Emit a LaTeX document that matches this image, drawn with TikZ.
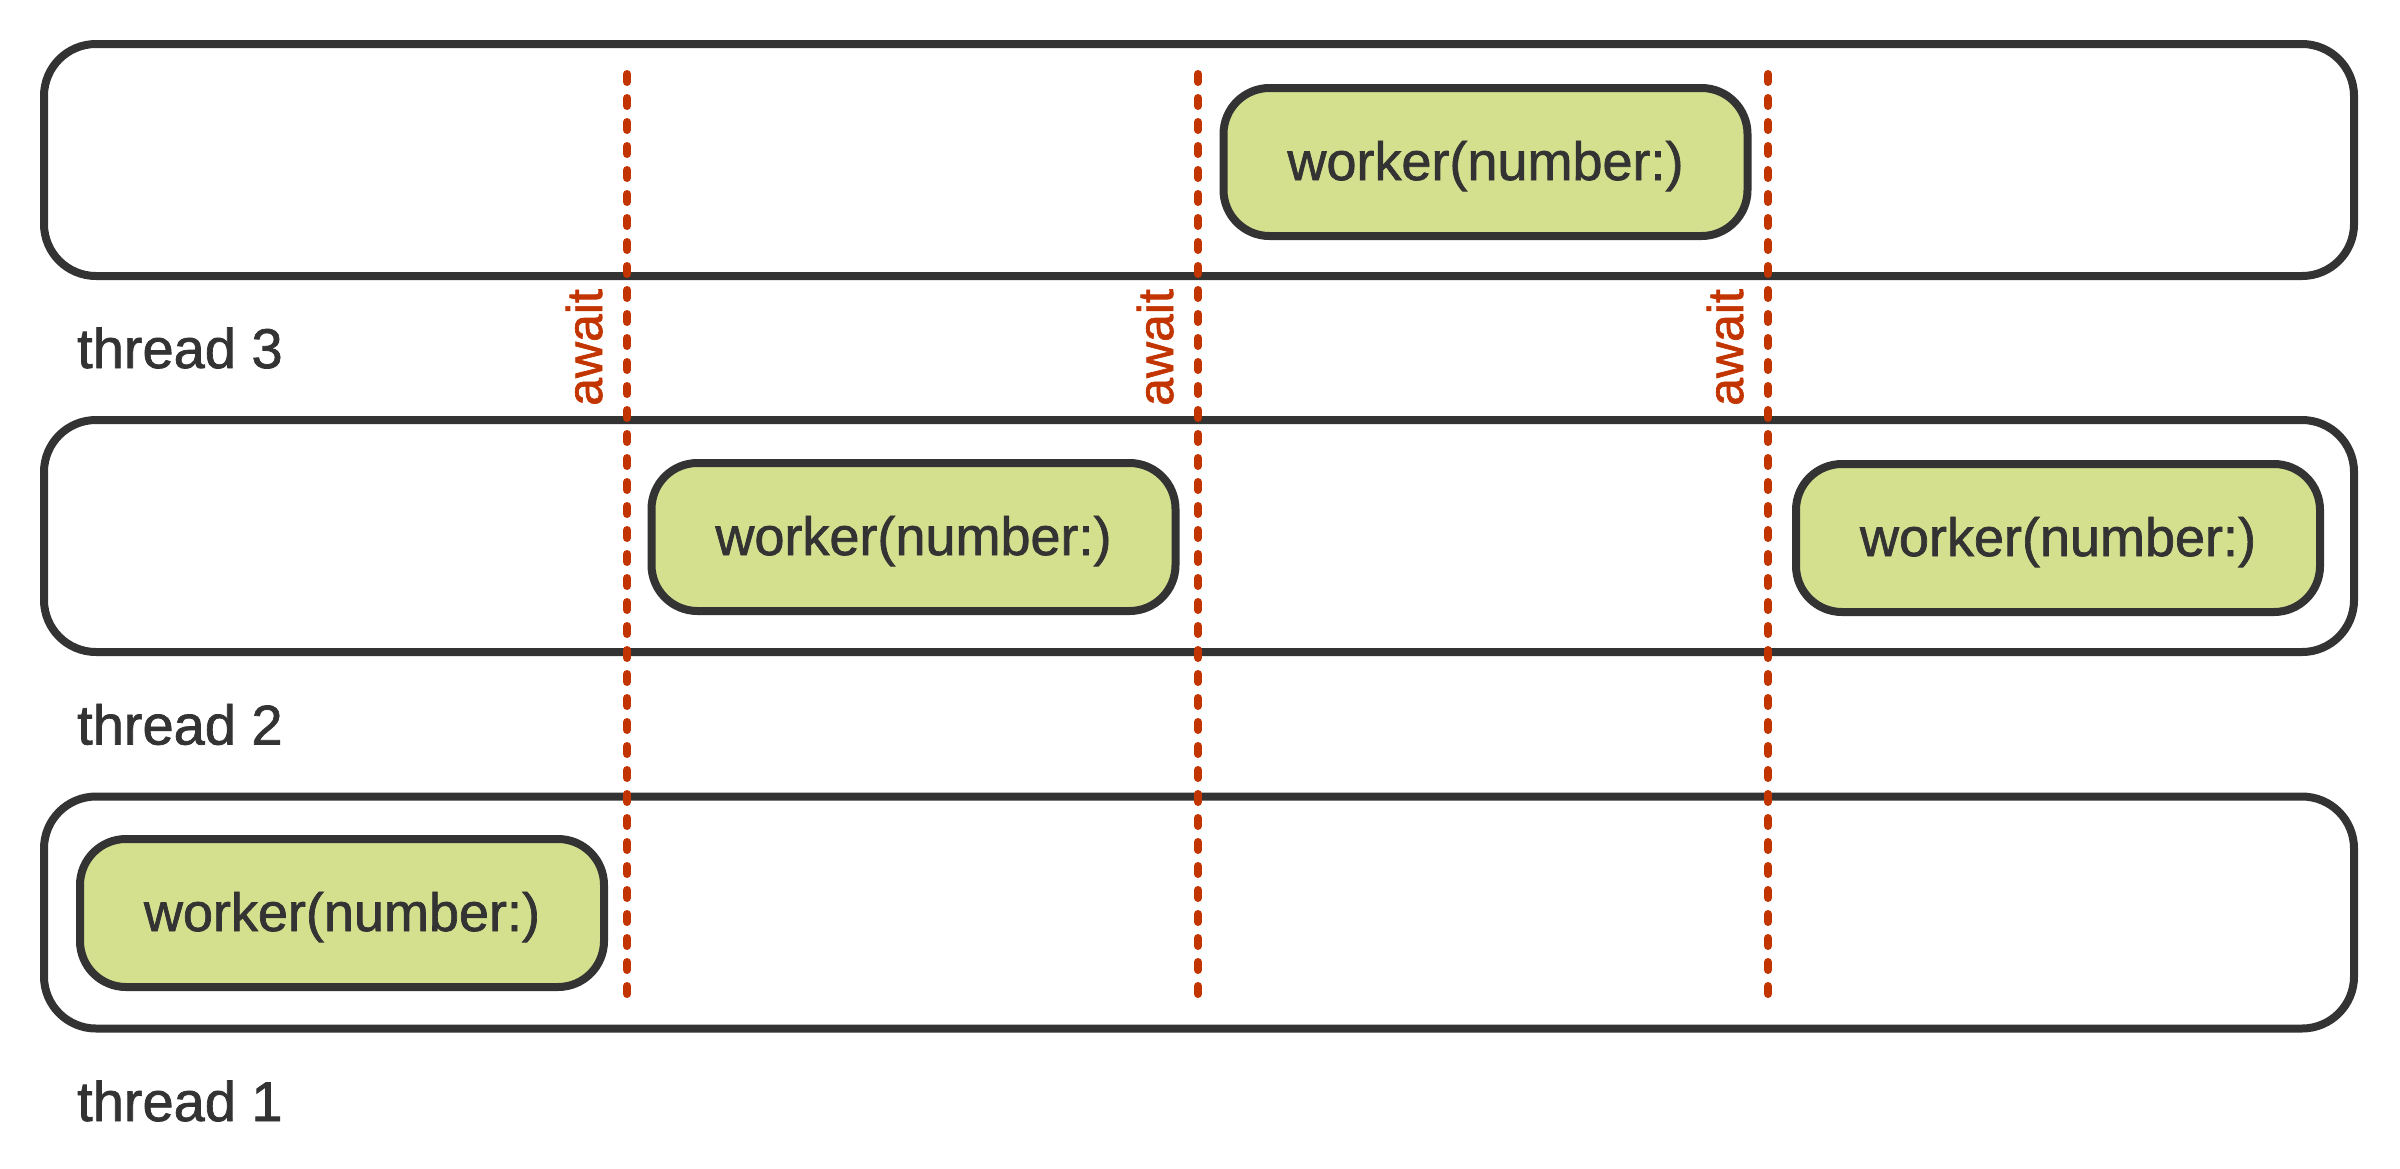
\documentclass[tikz,border=0pt]{standalone}
\usepackage{fontspec}
\setmainfont{Liberation Sans}[FakeBold=1.3]
\definecolor{ink}{HTML}{333333}
\definecolor{awaitred}{HTML}{C23400}
\definecolor{workfill}{HTML}{D4E08E}
\begin{document}
\begin{tikzpicture}[x=1pt,y=-1pt,
  lane/.style={draw=ink, line width=8pt, rounded corners=52pt, fill=white,
    minimum width=2310pt, minimum height=232pt, inner sep=0pt},
  worker/.style={draw=ink, line width=8pt, rounded corners=46pt, fill=workfill,
    minimum width=524pt, minimum height=148pt, inner sep=0pt, text=ink,
    text height=40pt, text depth=4pt,
    font=\fontsize{54}{60}\selectfont},
  threadlabel/.style={anchor=base west, inner sep=0pt, text=ink,
    font=\fontsize{56}{62}\selectfont},
  awaitline/.style={draw=awaitred, line width=8pt, line cap=round,
    dash pattern=on 8pt off 16pt},
  awaitlabel/.style={rotate=90, anchor=base west, inner sep=0pt, text=awaitred,
    font=\fontsize{50}{55}\selectfont}
]
\useasboundingbox (0,0) rectangle (2400,1168);

% lanes
\node[lane] (lane3) at (1199,160) {};
\node[lane] (lane2) at (1199,536) {};
\node[lane] (lane1) at (1199,912.5) {};

% thread labels
\node[threadlabel] (t3) at (77,368) {thread 3};
\node[threadlabel] (t2) at (77,744.5) {thread 2};
\node[threadlabel] (t1) at (77,1121) {thread 1};

% workers
\node[worker] (w1) at (342,913) {worker(number:)};
\node[worker] (w2a) at (913.5,537) {worker(number:)};
\node[worker] (w2b) at (2058,538) {worker(number:)};
\node[worker] (w3) at (1485.5,162) {worker(number:)};

% await lines
\coordinate (a1t) at (627,74);
\coordinate (a1b) at (627,995);
\coordinate (a2t) at (1198,74);
\coordinate (a2b) at (1198,995);
\coordinate (a3t) at (1768,74);
\coordinate (a3b) at (1768,995);
\draw[awaitline] (a1t) -- (a1b);
\draw[awaitline] (a2t) -- (a2b);
\draw[awaitline] (a3t) -- (a3b);

% await labels
\node[awaitlabel] (l1) at (602,406) {await};
\node[awaitlabel] (l2) at (1173,406) {await};
\node[awaitlabel] (l3) at (1743,406) {await};
\end{tikzpicture}
\end{document}
